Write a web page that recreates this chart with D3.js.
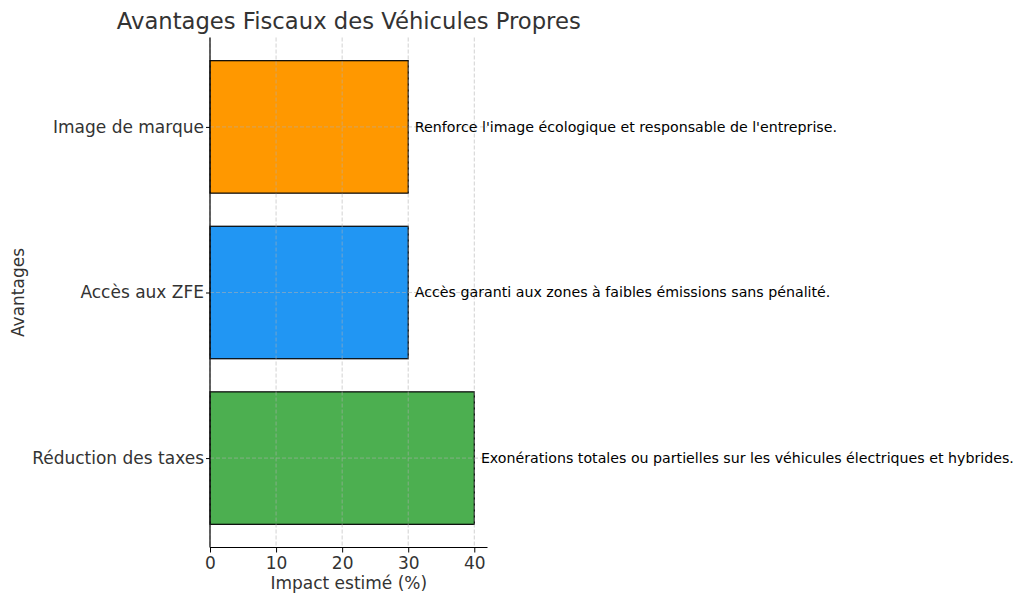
<!DOCTYPE html>
<html>
<head>
<meta charset="utf-8">
<script src="https://cdn.jsdelivr.net/npm/d3@7"></script>
<style>
  body { margin: 0; background: #fff; }
  svg { font-family: "DejaVu Sans", sans-serif; }
</style>
</head>
<body>
<svg width="1024" height="603"></svg>
<script>
// chart data, bottom to top
let categories = ["Réduction des taxes", "Accès aux ZFE", "Image de marque"]
let impacts = [40, 30, 30]
let notes = [
  "Exonérations totales ou partielles sur les véhicules électriques et hybrides.",
  "Accès garanti aux zones à faibles émissions sans pénalité.",
  "Renforce l'image écologique et responsable de l'entreprise."
]
let colors = ["#4CAF50", "#2196F3", "#FF9800"]
let xTicks = [0, 10, 20, 30, 40]

let svg = d3.select("svg")
let textColor = "#333"

let padLeft = 210, padRight = 487.5, padTop = 37.5, padBottom = 547.5

// x from 0 to 42 (matplotlib margin), y band positions -0.54..2.54
let xScale = d3.scaleLinear().domain([0, 42]).range([padLeft, padRight])
let yScale = d3.scaleLinear().domain([-0.54, 2.54]).range([padBottom, padTop])
let barH = 0.8

let data = categories.map((c, i) => ({ cat: c, val: impacts[i], note: notes[i], color: colors[i], pos: i }))

// bars
svg.selectAll("rect.bar")
  .data(data)
  .enter()
  .append("rect")
  .attr("class", "bar")
  .attr("x", xScale(0))
  .attr("y", d => yScale(d.pos + barH / 2))
  .attr("width", d => xScale(d.val) - xScale(0))
  .attr("height", d => yScale(d.pos - barH / 2) - yScale(d.pos + barH / 2))
  .attr("fill", d => d.color)
  .attr("stroke", "#000")
  .attr("stroke-width", 1.2)

// grid on top of bars
let grid = svg.append("g").attr("stroke", "#b0b0b0").attr("stroke-dasharray", "4,2")
  .attr("stroke-width", 0.8).attr("opacity", 0.7)
grid.selectAll("line.vx")
  .data(xTicks)
  .enter()
  .append("line")
  .attr("x1", d => xScale(d)).attr("x2", d => xScale(d))
  .attr("y1", padTop).attr("y2", padBottom)
grid.selectAll("line.hy")
  .data(data)
  .enter()
  .append("line")
  .attr("x1", padLeft).attr("x2", padRight)
  .attr("y1", d => yScale(d.pos)).attr("y2", d => yScale(d.pos))

// axes
let xAxis = d3.axisBottom(xScale).tickValues(xTicks).tickSize(5).tickPadding(4)
let gx = svg.append("g")
  .attr("transform", "translate(0," + padBottom + ")")
  .call(xAxis)
gx.select(".domain").attr("stroke", "#000").attr("stroke-width", 1.2).attr("d", "M" + padLeft + ",0H" + padRight)
gx.selectAll(".tick line").attr("stroke", "#000")
gx.selectAll(".tick text").attr("fill", textColor).style("font-size", "17px").style("font-family", "DejaVu Sans")

let yAxis = d3.axisLeft(yScale).tickValues(data.map(d => d.pos))
  .tickFormat(p => categories[p]).tickSize(4).tickPadding(2)
let gy = svg.append("g")
  .attr("transform", "translate(" + padLeft + ",0)")
  .call(yAxis)
gy.select(".domain").attr("stroke", "#000").attr("stroke-width", 1.2).attr("d", "M0," + padBottom + "V" + padTop)
gy.selectAll(".tick line").attr("stroke", "#000")
gy.selectAll(".tick text").attr("fill", textColor).style("font-size", "17px").style("font-family", "DejaVu Sans")

// annotations
svg.selectAll("text.note")
  .data(data)
  .enter()
  .append("text")
  .attr("class", "note")
  .attr("x", d => xScale(d.val + 1))
  .attr("y", d => yScale(d.pos))
  .attr("dy", "0.35em")
  .attr("fill", "#000")
  .style("font-size", "14.2px")
  .text(d => d.note)

// title and labels
svg.append("text")
  .attr("x", (padLeft + padRight) / 2)
  .attr("y", 29)
  .attr("text-anchor", "middle")
  .attr("fill", textColor)
  .style("font-size", "22.7px")
  .text("Avantages Fiscaux des Véhicules Propres")

svg.append("text")
  .attr("x", (padLeft + padRight) / 2)
  .attr("y", 589)
  .attr("text-anchor", "middle")
  .attr("fill", textColor)
  .style("font-size", "17px")
  .text("Impact estimé (%)")

svg.append("text")
  .attr("transform", "translate(24," + (padTop + padBottom) / 2 + ") rotate(-90)")
  .attr("text-anchor", "middle")
  .attr("fill", textColor)
  .style("font-size", "17px")
  .text("Avantages")
</script>
</body>
</html>
